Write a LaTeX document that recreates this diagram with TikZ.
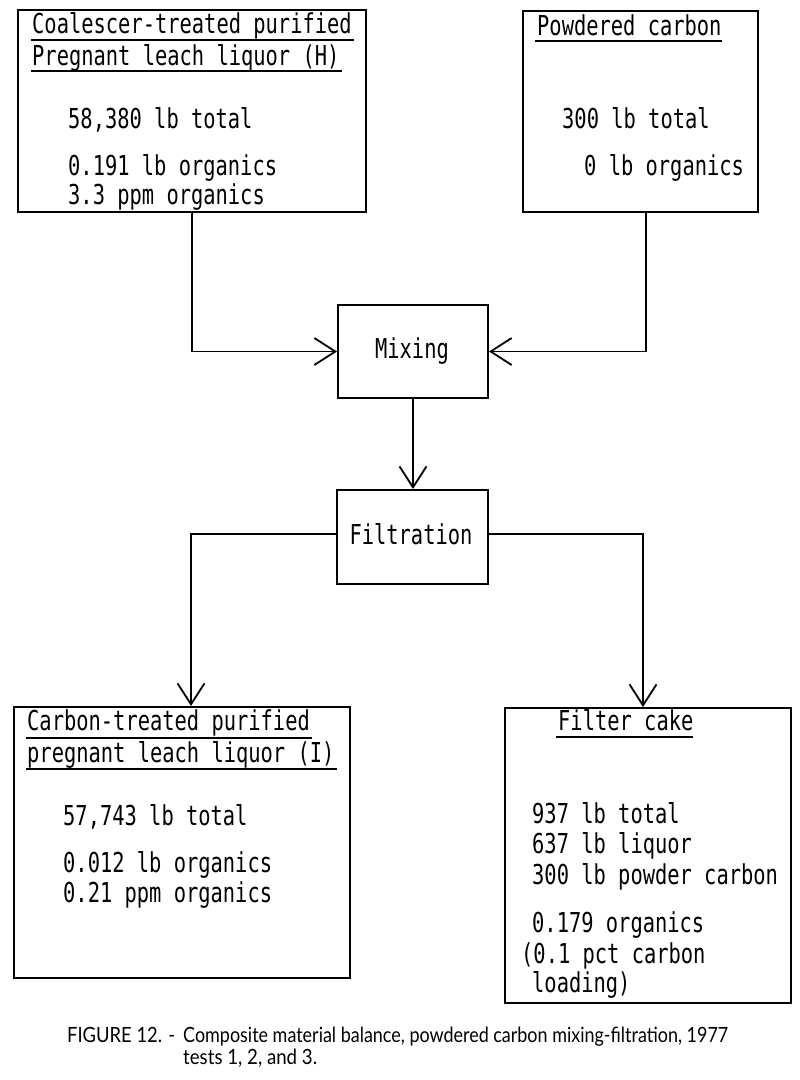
\documentclass[tikz,border=0pt]{standalone}
\usepackage{fontspec}
\usepackage{graphicx}
\usetikzlibrary{arrows.meta}
\newfontfamily\twfam[FakeStretch=0.745]{DejaVu Sans Mono}
\newfontfamily\capfam{Lato}
\newcommand\twfont{\twfam\fontsize{27.4}{30}\selectfont}
\newcommand\capfont{\capfam\fontsize{21}{24}\selectfont}
\tikzset{
  box/.style={draw, line width=2pt, anchor=north west, inner sep=0pt},
  tw/.style={font=\twfont, anchor=base west, inner sep=0pt},
  twc/.style={font=\twfont, anchor=base, inner sep=0pt},
  captext/.style={font=\capfont, anchor=base west, inner sep=0pt},
  ul/.style={line width=1.6pt},
  arr/.style={line width=1.8pt, -{Straight Barb[length=21pt,width=27pt,line width=1.8pt]}},
}
\begin{document}
\begin{tikzpicture}[x=1pt,y=-1pt]
\useasboundingbox (0,0) rectangle (800,1080);
% boxes
\node[box, minimum width=348pt, minimum height=202pt] (H) at (17,9) {};
\node[box, minimum width=235pt, minimum height=201pt] (P) at (522,10) {};
\node[box, minimum width=150pt, minimum height=93pt] (Mix) at (337,304) {};
\node[box, minimum width=151pt, minimum height=94pt] (Filt) at (336,489) {};
\node[box, minimum width=336pt, minimum height=271pt] (I) at (13,706) {};
\node[box, minimum width=286pt, minimum height=295pt] (F) at (504,707) {};
% texts box H
\node[tw] (h1t) at (32,33) {Coalescer-treated purified};
\node[tw] (h2t) at (32,65) {Pregnant leach liquor (H)};
\draw[ul] (31,40) -- (354,40);
\draw[ul] (31,71) -- (342,71);
\node[tw] (h3t) at (68,128) {58,380 lb total};
\node[tw] (h4t) at (68,175) {0.191 lb organics};
\node[tw] (h5t) at (68,204) {3.3 ppm organics};
% texts box P
\node[tw] (p1t) at (537,35) {Powdered carbon};
\draw[ul] (535,41) -- (722,41);
\node[tw] (p2t) at (562,128) {300 lb total};
\node[tw] (p3t) at (584,175) {0 lb organics};
% process boxes
\node[twc] (mixt) at (412,358) {Mixing};
\node[twc] (filtt) at (411,544) {Filtration};
% texts box I
\node[tw] (i1t) at (27,730) {Carbon-treated purified};
\node[tw] (i2t) at (27,762) {pregnant leach liquor (I)};
\draw[ul] (26,738) -- (312,738);
\draw[ul] (26,769) -- (337,769);
\node[tw] (i3t) at (63,825) {57,743 lb total};
\node[tw] (i4t) at (63,872) {0.012 lb organics};
\node[tw] (i5t) at (63,902) {0.21 ppm organics};
% texts box F
\node[tw] (f1t) at (558,730) {Filter cake};
\draw[ul] (556,737) -- (693,737);
\node[tw] (f2t) at (532,823) {937 lb total};
\node[tw] (f3t) at (532,853) {637 lb liquor};
\node[tw] (f4t) at (532,884) {300 lb powder carbon};
\node[tw] (f5t) at (532,932) {0.179 organics};
\node[tw] (f6t) at (521,963) {(0.1 pct carbon};
\node[tw] (f7t) at (532,992) {loading)};
% connectors
\coordinate (hx) at (192,0);
\coordinate (px) at (646,0);
\coordinate (ix) at (191,0);
\coordinate (fx) at (643,0);
\draw[arr] (H.south -| hx) |- (Mix.west);
\draw[arr] (P.south -| px) |- (Mix.east);
\draw[arr] (Mix.south) -- (Filt.north -| Mix.south);
\draw[arr] ([yshift=3pt]Filt.west) -| (I.north -| ix);
\draw[arr] ([yshift=3pt]Filt.east) -| (F.north -| fx);
% caption
\node[captext] (c1) at (67,1042) {\resizebox{108pt}{\height}{FIGURE 12. -}};
\node[captext] (c2) at (183,1042) {\resizebox{545pt}{\height}{Composite material balance, powdered carbon mixing-filtration, 1977}};
\node[captext] (c3) at (183,1064) {\resizebox{134pt}{\height}{tests 1, 2, and 3.}};
\end{tikzpicture}
\end{document}
